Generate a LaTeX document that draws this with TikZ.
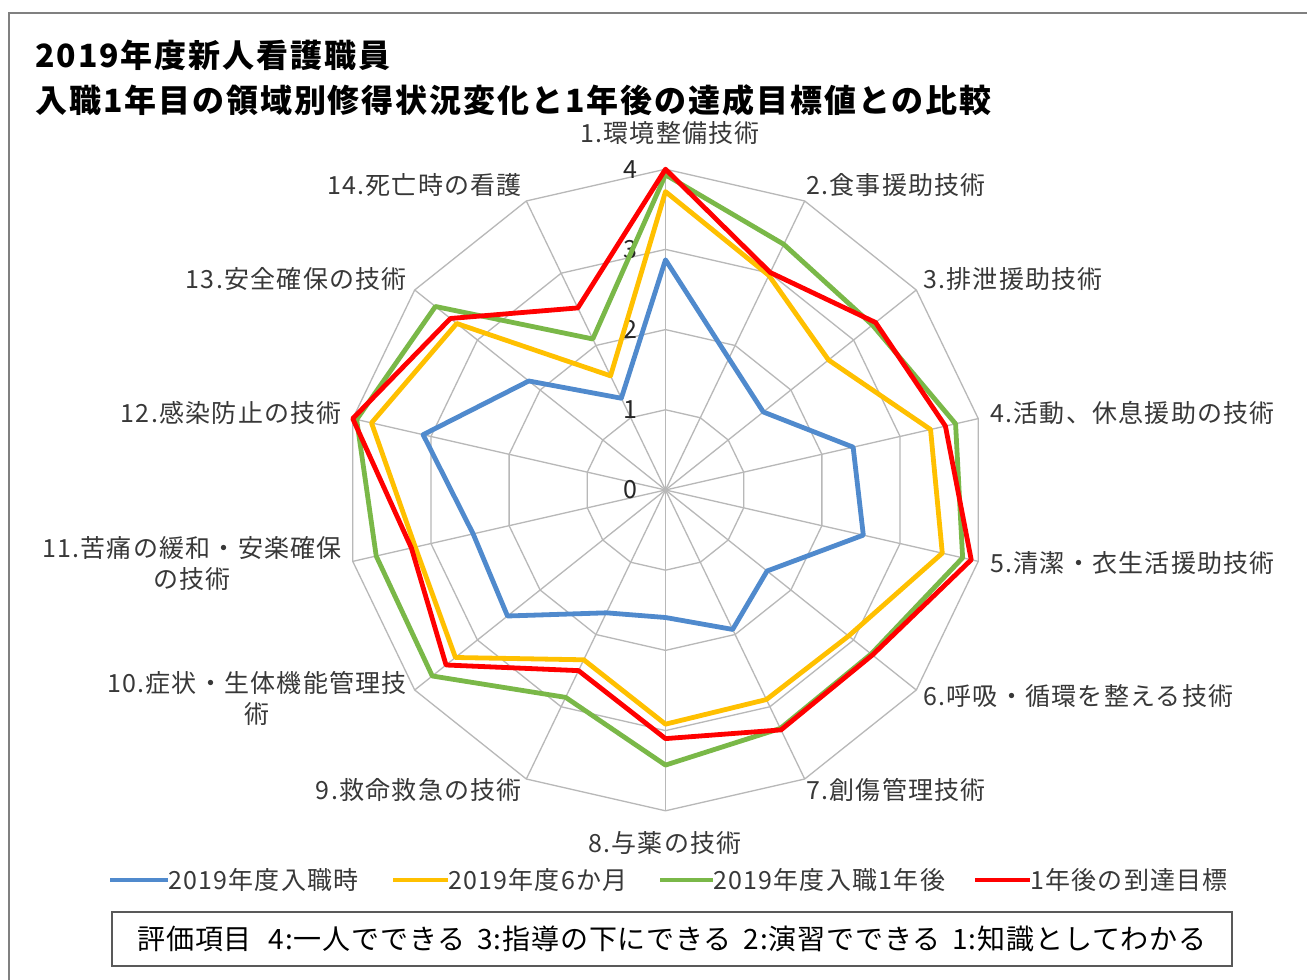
\documentclass[tikz,border=0pt]{standalone}
\usepackage{fontspec}
\setmainfont{Noto Sans CJK JP}
\newfontfamily\labelfont[LetterSpace=5]{Noto Sans CJK JP}
\newfontfamily\headfont[LetterSpace=6]{Noto Sans CJK JP}
\newfontfamily\keyfont[LetterSpace=3]{Noto Sans CJK JP}
\definecolor{entryblue}{RGB}{80,138,205}
\definecolor{halfgold}{RGB}{255,192,0}
\definecolor{yeargreen}{RGB}{122,184,72}
\definecolor{goalred}{RGB}{255,0,0}
\tikzset{gridline/.style={draw=black!28, line width=1.3pt}}
\tikzset{series/.style={line width=4.8pt, line join=round}}
\tikzset{axislabel/.style={inner sep=0pt, text=black!78, font=\fontsize{25}{31}\labelfont, align=center}}
\tikzset{ticklabel/.style={inner sep=0pt, text=black!85, font=\fontsize{25}{25}\selectfont}}
\tikzset{legendtext/.style={inner sep=0pt, anchor=west, text=black!78, font=\fontsize{25}{25}\labelfont}}
\tikzset{titletext/.style={inner sep=0pt, anchor=west, font=\fontsize{32}{32}\headfont\bfseries}}
\tikzset{keybox/.style={draw=black!65, line width=2pt, minimum width=1120pt, minimum height=54pt, inner sep=0pt, font=\fontsize{28}{28}\keyfont}}
\tikzset{frameline/.style={draw=black!50, line width=2pt}}

\begin{document}
\begin{tikzpicture}[x=1pt, y=1pt]
	\useasboundingbox (0,0) rectangle (1307,980);
	\fill[white] (0,0) rectangle (1307,980);

	% Frame
	\draw[frameline] (9,0) -- (9,967) -- (1307,967);

	% Title
	\node[titletext] (title1) at (35,925) {2019年度新人看護職員};
	\node[titletext] (title2) at (35,880) {入職1年目の領域別修得状況変化と1年後の達成目標値との比較};

	% Radar
	\begin{scope}[shift={(665.5pt,490pt)}, x=80.2pt, y=80.2pt]
		\coordinate (o) at (0,0);

		% Rings and spokes
		\foreach \r in {1,...,4}
			\draw[gridline] (90:\r) \foreach \k in {1,...,13} { -- ({90-\k*360/14}:\r) } -- cycle;
		\foreach \k in {1,...,14}
			\draw[gridline] (o) -- ({90-(\k-1)*360/14}:4);

		% Scale
		\foreach \r in {0,...,4}
			\node[ticklabel] (tick\r) at (-0.44,\r) {\r};

		% Data
		\foreach \v [count=\k] in {2.87,1.82,1.56,2.40,2.53,1.62,1.93,1.59,1.70,2.52,2.46,3.10,2.18,1.27}
			\coordinate (b\k) at ({90-(\k-1)*360/14}:\v);
		\foreach \v [count=\k] in {3.72,2.97,2.60,3.39,3.54,2.92,2.90,2.92,2.35,3.35,3.20,3.76,3.33,1.58}
			\coordinate (h\k) at ({90-(\k-1)*360/14}:\v);
		\foreach \v [count=\k] in {3.93,3.40,3.30,3.71,3.80,3.28,3.30,3.43,2.87,3.72,3.70,3.95,3.67,2.09}
			\coordinate (g\k) at ({90-(\k-1)*360/14}:\v);
		\foreach \v [count=\k] in {4.00,3.01,3.35,3.58,3.91,3.30,3.32,3.10,2.50,3.50,3.25,4.00,3.43,2.52}
			\coordinate (t\k) at ({90-(\k-1)*360/14}:\v);

		\draw[series, entryblue] (b1) \foreach \k in {2,...,14} { -- (b\k) } -- cycle;
		\draw[series, halfgold] (h1) \foreach \k in {2,...,14} { -- (h\k) } -- cycle;
		\draw[series, yeargreen] (g1) \foreach \k in {2,...,14} { -- (g\k) } -- cycle;
		\draw[series, goalred] (t1) \foreach \k in {2,...,14} { -- (t\k) } -- cycle;
	\end{scope}

	% Axis labels
	\node[axislabel] (ax1) at (670,847) {1.環境整備技術};
	\node[axislabel, anchor=west] (ax2) at (806,795) {2.食事援助技術};
	\node[axislabel, anchor=west] (ax3) at (923,701) {3.排泄援助技術};
	\node[axislabel, anchor=west] (ax4) at (990,567) {4.活動、休息援助の技術};
	\node[axislabel, anchor=west] (ax5) at (990,417) {5.清潔・衣生活援助技術};
	\node[axislabel, anchor=west] (ax6) at (923,284) {6.呼吸・循環を整える技術};
	\node[axislabel, anchor=west] (ax7) at (806,190) {7.創傷管理技術};
	\node[axislabel] (ax8) at (665,137) {8.与薬の技術};
	\node[axislabel, anchor=east] (ax9) at (522,190) {9.救命救急の技術};
	\node[axislabel, anchor=east] (ax10) at (407,282) {10.症状・生体機能管理技\\術};
	\node[axislabel, anchor=east] (ax11) at (342,416) {11.苦痛の緩和・安楽確保\\の技術};
	\node[axislabel, anchor=east] (ax12) at (342,567) {12.感染防止の技術};
	\node[axislabel, anchor=east] (ax13) at (407,701) {13.安全確保の技術};
	\node[axislabel, anchor=east] (ax14) at (522,795) {14.死亡時の看護};

	% Legend
	\node[legendtext] (legblue) at (168,100) {2019年度入職時};
	\node[legendtext] (leggold) at (448,100) {2019年度6か月};
	\node[legendtext] (leggreen) at (713,100) {2019年度入職1年後};
	\node[legendtext] (legred) at (1030,100) {1年後の到達目標};
	\draw[series, entryblue] ([xshift=-58pt]legblue.west) -- (legblue.west);
	\draw[series, halfgold] ([xshift=-55pt]leggold.west) -- (leggold.west);
	\draw[series, yeargreen] ([xshift=-53pt]leggreen.west) -- (leggreen.west);
	\draw[series, goalred] ([xshift=-55pt]legred.west) -- (legred.west);

	% Key
	\node[keybox] (key) at (672,41) {評価項目\hspace{17pt}4:一人でできる\hspace{12pt}3:指導の下にできる\hspace{12pt}2:演習でできる\hspace{12pt}1:知識としてわかる};
\end{tikzpicture}
\end{document}
